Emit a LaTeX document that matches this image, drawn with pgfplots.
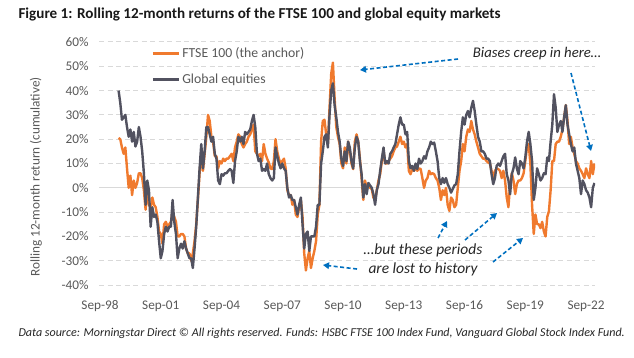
\documentclass[border=0pt]{standalone}
\usepackage{pgfplots}
\pgfplotsset{compat=1.18}
\usepackage{pgfplotstable}
\usepackage{fontspec}
\setmainfont{Carlito}
\usetikzlibrary{arrows.meta}
\definecolor{ftse}{RGB}{240,122,46}
\definecolor{glob}{RGB}{82,82,96}
\definecolor{gridc}{RGB}{217,217,217}
\definecolor{tickc}{RGB}{89,89,89}
\definecolor{arrowc}{RGB}{0,112,192}

\pgfplotstableread{
m v
11 20.5
12 20
13 16.6
14 14
15 16.6
16 8
17 0
18 5
19 -3
20 3
21 0
22 2
23 6
24 6
25 4
26 -1
27 -9
28 0
29 -7
30 -8
31 -4
32 -7
33 -8
34 -12
35 -18
36 -19
37 -23
38 -15
39 -14
40 -16
41 -15
42 -14
43 -10
44 -12
45 -14
46 -20
47 -20
48 -19
49 -19
50 -20
51 -25
52 -27
53 -27
54 -30
55 -27
56 -22
57 -15
58 -5
59 6
60 14
61 7
62 14
63 21
64 30
65 27.5
66 21
67 19
68 13
69 13
70 8
71 11
72 10
73 12
74 11
75 12
76 12
77 13
78 14
79 11
80 16.6
81 19
82 22
83 21
84 18
85 16.6
86 18
87 19
88 21
89 22
90 24
91 26
92 15
93 14
94 13
95 14
96 11
97 18
98 14
99 12
100 10.4
101 8
102 7.7
103 11
104 20
105 15
106 12
107 10
108 11
109 12
110 8
111 -1
112 -3
113 -3
114 -7
115 -5
116 -11
117 -12
118 -8
119 -5
120 -12
121 -27
122 -34
123 -29
124 -26
125 -33
126 -29
127 -26
128 -22
129 -11
130 -7
131 19
132 27.5
133 28
134 22
135 18
136 33
137 47
138 51.5
139 37
140 25
141 21
142 18
143 10
144 8
145 16.6
146 10
147 19
148 15
149 10
150 7.7
151 19
152 22
153 19
154 12
155 4
156 -5
157 3
158 0
159 1.5
160 0
161 -0.5
162 -4
163 -5
164 -1
165 3
166 5.6
167 11
168 15
169 10
170 10
171 11
172 12
173 13
174 15
175 16.6
176 17
177 19
178 21
179 18
180 19
181 16.6
182 18
183 7
184 5.6
185 7.7
186 7
187 8
188 7
189 8
190 7.7
191 4
192 0
193 3
194 4
195 7
196 5.6
197 6
198 5.6
199 4
200 3
201 0
202 -5
203 -1
204 -3
205 0
206 -7
207 -9.5
208 -4
209 -5
210 -8
211 -7
212 0
213 7
214 11
215 18
216 15
217 21
218 24
219 23
220 27.5
221 24
222 22
223 19
224 16.6
225 14
226 13
227 12
228 12
229 11
230 10.4
231 10
232 7
233 4
234 7
235 8
236 7.7
237 7
238 4
239 7
240 3
241 -4
242 -8
243 1.5
244 6
245 3
246 -2.6
247 1.5
248 3
249 3
250 4
251 6
252 11
253 16.6
254 18
255 10
256 -7
257 -19
258 -11
259 -15
260 -15
261 -16.6
262 -14
263 -18
264 -20
265 -12
266 -9.6
267 -1
268 11
269 11
270 18
271 19
272 19
273 21
274 24
275 29
276 34
277 27.5
278 18
279 21
280 16.6
281 14
282 11
283 10
284 8
285 7
286 5.6
287 4
288 8
289 5.6
290 4
291 11
292 5.6
293 10
}\ftsedata

\pgfplotstableread{
m v
11 40
12 35
13 28
14 29
15 30
16 25
17 21
18 24
19 19
20 23
21 17
22 19
23 25
24 21
25 15
26 6
27 -7
28 3
29 -1
30 -16
31 -8
32 -12
33 -11
34 -14
35 -22
36 -29
37 -26
38 -19
39 -16
40 -18
41 -16
42 -16
43 -5
44 -14
45 -19
46 -29
47 -25
48 -23
49 -25
50 -22
51 -25
52 -27
53 -29
54 -29
55 -33
56 -25
57 -16
58 -4
59 8
60 18
61 8
62 15
63 25
64 25
65 22
66 19
67 21
68 14
69 12
70 3
71 1.5
72 5.6
73 5
74 6
75 6
76 7
77 7.7
78 7
79 2
80 11
81 15
82 21
83 19
84 21
85 18
86 23
87 22
88 23
89 24
90 27.5
91 30
92 25
93 14
94 11
95 12
96 7
97 7.7
98 7
99 10
100 5.6
101 4
102 3
103 4
104 16.6
105 13
106 10
107 8
108 10
109 8
110 7
111 0
112 -4
113 -3
114 -5
115 -5
116 -8
117 -11
118 -7
119 -4
120 -15
121 -25
122 -19
123 -18
124 -26
125 -20
126 -20
127 -20
128 -16
129 -7
130 -7
131 10
132 15
133 21
134 22
135 16.6
136 30
137 40
138 43
139 34
140 29
141 23
142 19
143 12
144 9
145 15
146 11
147 19
148 16.6
149 11
150 8
151 16.6
152 21
153 19
154 11
155 5.6
156 -4
157 1.5
158 -2.6
159 2
160 1
161 0
162 -2.6
163 -7
164 -1
165 1.5
166 7
167 12
168 16.6
169 10
170 11
171 10
172 14
173 15
174 16.6
175 18
176 22
177 26
178 29
179 26
180 26
181 22
182 23
183 11
184 8
185 9
186 7
187 10
188 7.7
189 12
190 10
191 11
192 13
193 12
194 15
195 16.6
196 19
197 18
198 18.6
199 15
200 11
201 4
202 1.5
203 4
204 2
205 4
206 1.5
207 0
208 -2
209 -0.5
210 1
211 1.5
212 5.6
213 15
214 23
215 29
216 26
217 30
218 31.6
219 29
220 33
221 35.8
222 31.6
223 26
224 21
225 19
226 15
227 15
228 14
229 12
230 12
231 11
232 5.6
233 1.5
234 4
235 9
236 10
237 9
238 11
239 13
240 14
241 5.6
242 3
243 -2.6
244 5.6
245 8
246 12.5
247 8
248 5.6
249 11
250 10
251 8
252 12.5
253 19
254 23
255 18
256 11
257 -5
258 0
259 8
260 5.6
261 3
262 4
263 6
264 5.6
265 12.5
266 11
267 19
268 26
269 38.5
270 33
271 23
272 26
273 27.5
274 23
275 29
276 34
277 26
278 22
279 18
280 15
281 16.6
282 10
283 7
284 4
285 -2.6
286 3
287 1.5
288 -1
289 -2
290 -4
291 -8
292 0
293 2
}\globdata

\begin{document}
\begin{tikzpicture}[x=1bp,y=1bp]
\fill[white] (0,0) rectangle (634,357);

\begin{axis}[
  at={(99bp,72bp)}, anchor=south west,
  scale only axis, width=496bp, height=243bp,
  xmin=-0.6, xmax=293.3, ymin=-40, ymax=60,
  axis line style={draw=none},
  major tick length=0pt,
  xtick={0,36,72,108,144,180,216,252,288},
  xticklabels={Sep-98,Sep-01,Sep-04,Sep-07,Sep-10,Sep-13,Sep-16,Sep-19,Sep-22},
  ytick={-40,-30,-20,-10,10,20,30,40,50,60},
  yticklabels={-40\%,-30\%,-20\%,-10\%,10\%,20\%,30\%,40\%,50\%,60\%},
  extra y ticks={0},
  extra y tick labels={0\%},
  extra y tick style={major grid style={solid, gridc, line width=1bp}},
  ymajorgrids,
  grid style={gridc, line width=1bp, dash pattern=on 5bp off 3.5bp},
  tick label style={font=\fontsize{13.3}{15}\selectfont, text=tickc},
  yticklabel style={xshift=-7bp},
  xticklabel style={yshift=-12bp},
  legend style={at={(axis description cs:0.105,0.985)}, anchor=north west,
    draw=none, fill=none, font=\fontsize{13.8}{15}\selectfont, text=tickc,
    row sep=11bp, inner sep=0pt, cells={anchor=west}},
  legend image code/.code={\draw[#1, line width=3bp] (0bp,0bp) -- (26bp,0bp);},
  every axis plot/.append style={line join=round},
]
\addplot[ftse, line width=2.4bp] table[x=m,y=v] {\ftsedata};
\addlegendentry{FTSE 100 (the anchor)}
\addplot[glob, line width=2.4bp] table[x=m,y=v] {\globdata};
\addlegendentry{Global equities}
\end{axis}

% title
\node[anchor=west, font=\fontsize{15.2}{17}\selectfont\bfseries, text=black!90] at (15,343) {Figure 1: Rolling 12-month returns of the FTSE 100 and global equity markets};
% y label
\node[rotate=90, font=\fontsize{13.3}{15}\selectfont, text=tickc] at (36,180) {Rolling 12-month return (cumulative)};
% footer
\node[anchor=west, font=\fontsize{12.1}{14}\selectfont\itshape, text=black!85] at (15,24) {Data source: Morningstar Direct \textcopyright{} All rights reserved. Funds: HSBC FTSE 100 Index Fund, Vanguard Global Stock Index Fund.};

% annotations
\node[font=\fontsize{14.8}{16}\selectfont\itshape, text=black!85] at (537,303) {Biases creep in here\ldots};
\node[font=\fontsize{15.5}{17}\selectfont\itshape, text=black!85] at (423,107) {\ldots but these periods};
\node[font=\fontsize{15.5}{17}\selectfont\itshape, text=black!85] at (423,88) {are lost to history};

\begin{scope}[arrowc, line width=1.6bp, dash pattern=on 4bp off 2.5bp, -{Triangle[length=6bp,width=6.5bp]}]
\draw (458,298) -- (360,287);
\draw (571,284) -- (591,206);
\draw (357,88) -- (323,92);
\draw (438,119) -- (447,136);
\draw (465,117) -- (497,144);
\draw (493,95) -- (523,119);
\end{scope}

\pgfresetboundingbox
\path[use as bounding box] (0,0) rectangle (634,357);
\end{tikzpicture}
\end{document}
